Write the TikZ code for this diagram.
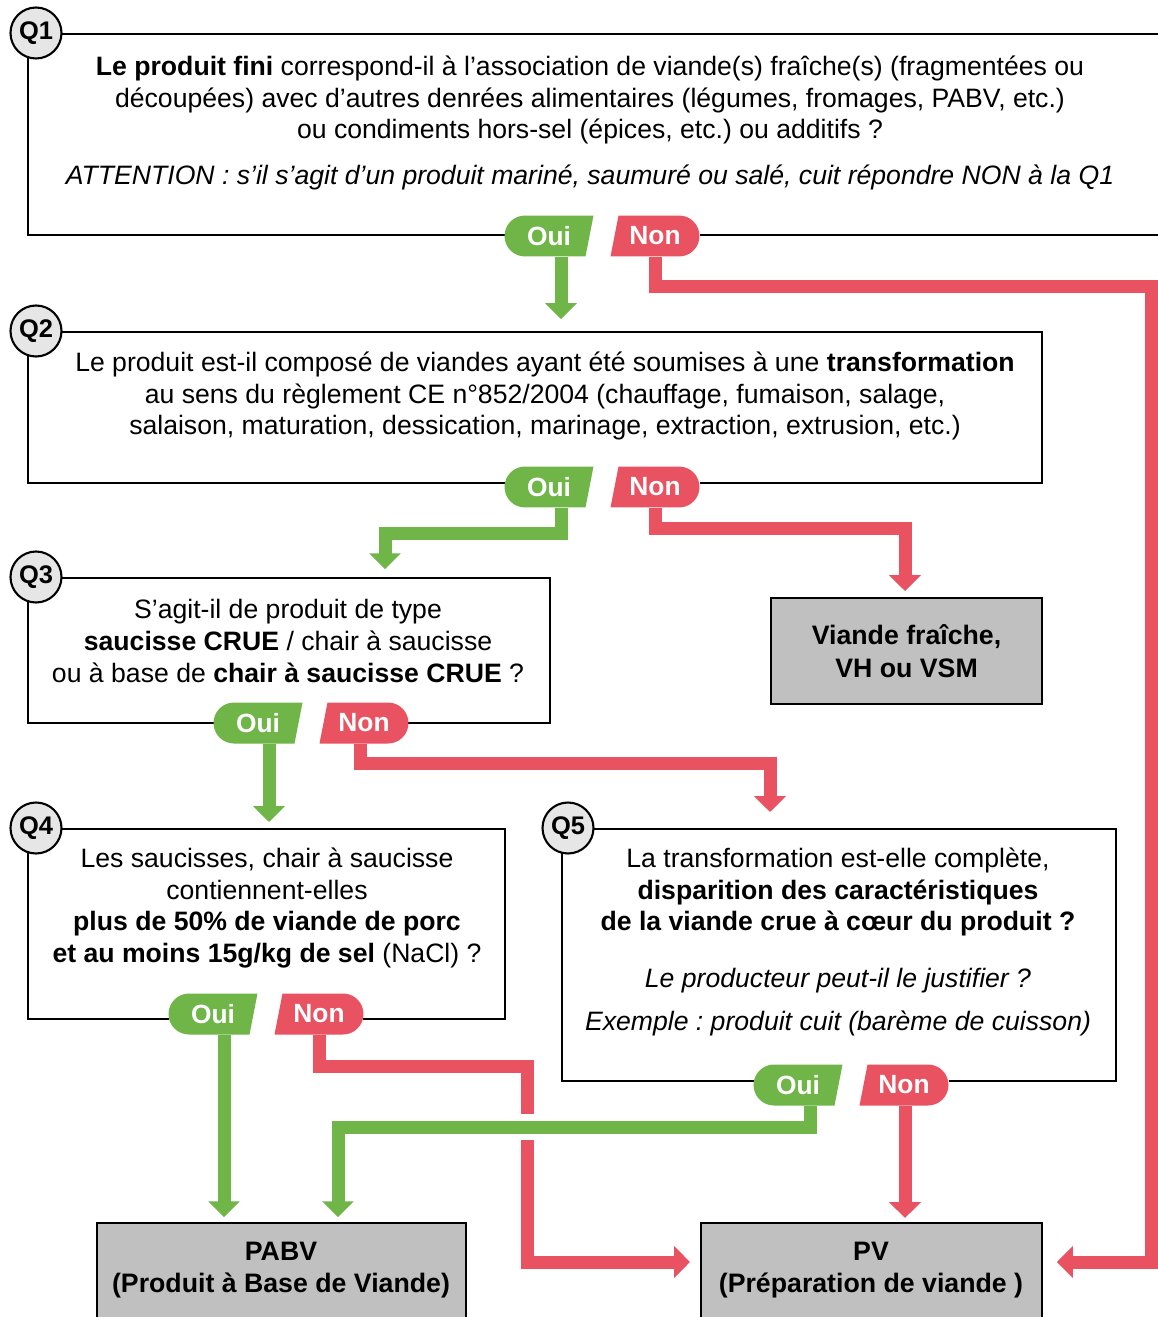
\documentclass[tikz,border=0pt]{standalone}
\usepackage{fontspec}
\setmainfont{Liberation Sans}
\frenchspacing
\usetikzlibrary{arrows.meta,calc}
\definecolor{ouigreen}{RGB}{112,181,72}
\definecolor{nonred}{RGB}{232,82,97}
\definecolor{boxgrey}{RGB}{192,192,192}
\definecolor{qgrey}{RGB}{230,230,230}
\tikzset{%
	box/.style      = {draw, line width=1.2pt, rectangle, anchor=north west, inner sep=0pt},
	endbox/.style   = {box, fill=boxgrey},
	qnum/.style     = {draw, line width=1.2pt, circle, fill=qgrey, minimum size=1.02cm,
		inner sep=0pt, font=\fontsize{14.5}{16}\selectfont\bfseries}, % Question number
	txt/.style      = {align=center, font=\fontsize{15.15}{18.1}\selectfont},
	note/.style     = {align=center, font=\fontsize{15.15}{24.4}\selectfont\itshape},
	endtxt/.style   = {align=center, font=\fontsize{15.2}{18.4}\selectfont\bfseries},
	badge/.style    = {minimum width=1.78cm, minimum height=0.82cm, inner sep=0pt,
		fill=white, text=white, font=\fontsize{15}{16}\selectfont\bfseries},
	ouibadge/.style = {badge, path picture={
		\fill[ouigreen] ($(path picture bounding box.north west)+(20.5,0)$)
			-- (path picture bounding box.north east)
			-- ($(path picture bounding box.south east)+(-8,0)$)
			-- ($(path picture bounding box.south west)+(20.5,0)$)
			arc[start angle=270, end angle=90, radius=0.41cm] -- cycle;}},
	nonbadge/.style = {badge, path picture={
		\fill[nonred] ($(path picture bounding box.north west)+(8,0)$)
			-- ($(path picture bounding box.north east)+(-20.5,0)$)
			arc[start angle=90, end angle=-90, radius=0.41cm]
			-- (path picture bounding box.south west) -- cycle;}},
	ouiarrow/.style = {draw=ouigreen, line width=7.4pt, -{Triangle[width=17.6pt,length=9pt]}},
	nonarrow/.style = {draw=nonred, line width=7.4pt, -{Triangle[width=17.6pt,length=9pt]}}
}

\begin{document}
\begin{tikzpicture}[x=0.02cm, y=-0.02cm]
	\useasboundingbox (0,0) rectangle (1158,1317);
	\clip (0,0) rectangle (1158,1317);

	% questions
	\node[box, minimum width=22.86cm, minimum height=4.02cm] (q1) at (27,33) {};
	\node[box, minimum width=20.28cm, minimum height=3.02cm] (q2) at (27,331) {};
	\node[box, minimum width=10.44cm, minimum height=2.90cm] (q3) at (27,577) {};
	\node[box, minimum width=9.54cm, minimum height=3.80cm] (q4) at (27,828) {};
	\node[box, minimum width=11.08cm, minimum height=5.04cm] (q5) at (561,828) {};

	% results
	\node[endbox, endtxt, minimum width=5.42cm, minimum height=2.12cm] (viande) at (770,597)
		{Viande fraîche,\\VH ou VSM};
	\node[endbox, minimum width=7.38cm, minimum height=2.3cm] (pabv) at (96,1222) {};
	\node[endbox, minimum width=6.82cm, minimum height=2.3cm] (pv) at (700,1222) {};

	\node[txt] (q1txt) at (590,100) {\textbf{Le produit fini} correspond-il à l’association de viande(s) fraîche(s) (fragmentées ou\\
		découpées) avec d’autres denrées alimentaires (légumes, fromages, PABV, etc.)\\
		ou condiments hors-sel (épices, etc.) ou additifs ?};
	\node[note] (q1note) at (590,177) {ATTENTION : s’il s’agit d’un produit mariné, saumuré ou salé, cuit répondre NON à la Q1};
	\node[txt] (q2txt) at (545,396) {Le produit est-il composé de viandes ayant été soumises à une \textbf{transformation}\\
		au sens du règlement CE n°852/2004 (chauffage, fumaison, salage,\\
		salaison, maturation, dessication, marinage, extraction, extrusion, etc.)};
	\node[txt] (q3txt) at (288,641) {S’agit-il de produit de type\\
		\textbf{saucisse CRUE} / chair à saucisse\\
		ou à base de \textbf{chair à saucisse CRUE} ?};
	\node[txt] (q4txt) at (267,908) {Les saucisses, chair à saucisse\\
		contiennent-elles\\
		\textbf{plus de 50\% de viande de porc}\\
		\textbf{et au moins 15g/kg de sel} (NaCl) ?};
	\node[txt] (q5txt) at (838,892) {La transformation est-elle complète,\\
		\textbf{disparition des caractéristiques}\\
		\textbf{de la viande crue à cœur du produit ?}};
	\node[note] (q5note) at (838,1002) {Le producteur peut-il le justifier ?\\
		Exemple : produit cuit (barème de cuisson)};
	\node[endtxt] (pabvtxt) at (281,1270) {PABV\\(Produit à Base de Viande)};
	\node[endtxt] (pvtxt) at (871,1270) {PV\\(Préparation de viande )};

	\foreach \n/\x/\y in {1/36/33, 2/36/331, 3/36/577, 4/36/828, 5/568/828}
		\node[qnum] (c\n) at (\x,\y) {Q\n};

	% answers
	\foreach \n/\x/\y in {1/549/236, 2/549/487, 3/258/723, 4/213/1014, 5/798/1085}{
		\fill[white] (\x+40,\y-9) rectangle (\x+70,\y+9);
		\node[ouibadge] (oui\n) at (\x,\y) {Oui};
		\node[nonbadge] (non\n) at (\x+106,\y) {Non};
	}

	\draw[ouiarrow, shorten >=6.8pt] (oui1.south -| 561,0) -- (q2.north -| 561,0);
	\draw[nonarrow, shorten >=7.9pt] (non1.south -| 655,0) |- (1151,287) |- (pv.east |- 0,1262);

	\draw[ouiarrow, shorten >=4.5pt] (oui2.south -| 561,0) |- (385,533) -- (q3.north -| 385,0);
	\draw[nonarrow, shorten >=3.4pt] (non2.south -| 655,0) |- (905,528) -- (viande.north -| 905,0);

	\draw[ouiarrow, shorten >=3.4pt] (oui3.south -| 269,0) -- (q4.north -| 269,0);
	\draw[nonarrow, shorten >=9.1pt] (non3.south -| 360,0) |- (770,763) -- (q5.north -| 770,0);

	\draw[ouiarrow, shorten >=2.8pt] (oui4.south -| 224,0) -- (pabv.north -| 224,0);
	\draw[nonarrow, shorten >=5.7pt] (non4.south -| 319,0) |- (527,1066) |- (pv.west |- 0,1262);

	\fill[white] (518,1114) rectangle (536,1140); % crossing
	\draw[ouiarrow, shorten >=2.8pt] (oui5.south -| 810,0) |- (338,1127) -- (pabv.north -| 338,0);
	\draw[nonarrow, shorten >=2.3pt] (non5.south -| 905,0) -- (pv.north -| 905,0);
\end{tikzpicture}
\end{document}
